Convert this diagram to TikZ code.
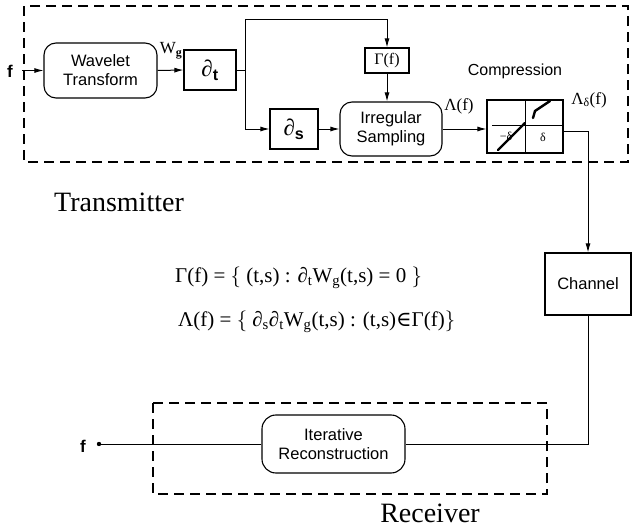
\documentclass[tikz,border=0pt]{standalone}
\usepackage{fontspec}
\setmainfont{Liberation Serif}
\setsansfont{Liberation Sans}
\newfontfamily\symfont{DejaVu Serif}
\usetikzlibrary{arrows.meta}

\begin{document}
\begin{tikzpicture}[x=1pt,y=-1pt,
  box/.style={draw, line width=1.1pt, inner sep=0pt, align=center,
    font=\sffamily\fontsize{16.5}{19}\selectfont},
  rbox/.style={box, rounded corners=12pt},
  frame/.style={draw, line width=1.4pt, dash pattern=on 10pt off 6pt},
  wire/.style={line width=1pt},
  arr/.style={wire, -{Latex[length=9pt,width=5pt]}},
  lbl/.style={inner sep=0pt, font=\fontsize{17}{19}\selectfont},
  sflbl/.style={inner sep=0pt, font=\sffamily\fontsize{16}{18}\selectfont},
  big/.style={inner sep=0pt, font=\fontsize{28}{30}\selectfont},
  eq/.style={inner sep=0pt, anchor=west, font=\fontsize{21}{24}\selectfont},
  curve/.style={line width=2.4pt, line cap=round},
]
\useasboundingbox (0,0) rectangle (633,530);

% --- transmitter ---
\draw[frame] (24,6) rectangle (628,162);
\node[big] (tx) at (119,202) {Transmitter};

\node[sflbl, font=\sffamily\bfseries\fontsize{17}{19}\selectfont] (fin) at (10,71) {f};
\coordinate (fstart) at (22,70.5);
\node[rbox, minimum width=113pt, minimum height=55pt] (wt) at (100.5,70.5) {Wavelet\\Transform};
\node[box, minimum width=52pt, minimum height=40pt, font=\fontsize{23}{25}\selectfont] (dt) at (210,70) {∂\textsubscript{\sffamily\bfseries t}};
\node[lbl] (wg) at (171,51) {W\textsubscript{\bfseries g}};
\node[box, minimum width=44pt, minimum height=25pt, font=\fontsize{16}{18}\selectfont] (gam) at (387,60.5) {Γ(f)};
\node[box, minimum width=48pt, minimum height=40pt, font=\fontsize{23}{25}\selectfont] (ds) at (294,129) {∂\textsubscript{\sffamily\bfseries s}};
\node[rbox, minimum width=102pt, minimum height=54pt] (is) at (391,129) {Irregular\\Sampling};
\node[lbl] (lam) at (459,106) {Λ(f)};
\node[box, minimum width=76pt, minimum height=53pt] (comp) at (525,126.5) {};
\node[sflbl] (comptxt) at (515,71) {Compression};
\node[lbl] (lamd) at (589,100) {Λ\textsubscript{δ}(f)};

% transfer curve of the quantiser
\draw[line width=1pt] (comp.north) -- (comp.south);
\draw[line width=1pt] (492,125) -- (562,125);
\draw[curve] (498,150) -- (525,123);
\draw[curve] (533,118) -- (535,111) -- (550,101);
\fill (524,124) circle (1.6pt);
\node[inner sep=0pt, font=\fontsize{12}{13}\selectfont] (mdel) at (506,136) {−δ};
\node[inner sep=0pt, font=\fontsize{12}{13}\selectfont] (pdel) at (543,137) {δ};

% connectors inside the transmitter
\coordinate (br) at (245,70);
\coordinate (top) at (245,19);
\draw[arr] (fstart) -- (wt.west);
\draw[arr] (wt.east) -- (dt.west);
\draw[wire] (dt.east) -- (br);
\draw[arr] (br) -- (top) -| (gam.north);
\draw[arr] (br) |- (ds.west);
\draw[arr] (gam.south) -- (gam.south |- is.north);
\draw[arr] (ds.east) -- (is.west);
\draw[arr] (is.east) -- (is.east -| comp.west);

% --- channel ---
\node[box, minimum width=86pt, minimum height=62pt] (ch) at (588,284) {Channel};
\coordinate (cout) at (563,131);
\draw[arr] (cout) -| (ch.north);

% --- formulas ---
\node[eq] (eqa) at (175,278) {Γ(f) = $\Big\{$ (t,s) : ∂\textsubscript{t}W\textsubscript{g}(t,s) = 0 $\Big\}$};
\node[eq] (eqb) at (178,322) {Λ(f) = $\Big\{$ ∂\textsubscript{s}∂\textsubscript{t}W\textsubscript{g}(t,s) : (t,s){\symfont ∈}Γ(f)$\Big\}$};

% --- receiver ---
\draw[frame] (153,403) rectangle (547,494);
\node[big] (rx) at (430,513) {Receiver};
\node[rbox, minimum width=143pt, minimum height=58pt, rounded corners=14pt] (ir) at (333.5,444) {Iterative\\Reconstruction};
\draw[wire] (ch.south) |- (ir.east);
\coordinate (fend) at (99,444);
\draw[wire] (ir.west) -- (fend);
\fill (fend) circle (2.2pt);
\node[sflbl, font=\sffamily\bfseries\fontsize{17}{19}\selectfont] (fout) at (83,446) {f};
\end{tikzpicture}
\end{document}
